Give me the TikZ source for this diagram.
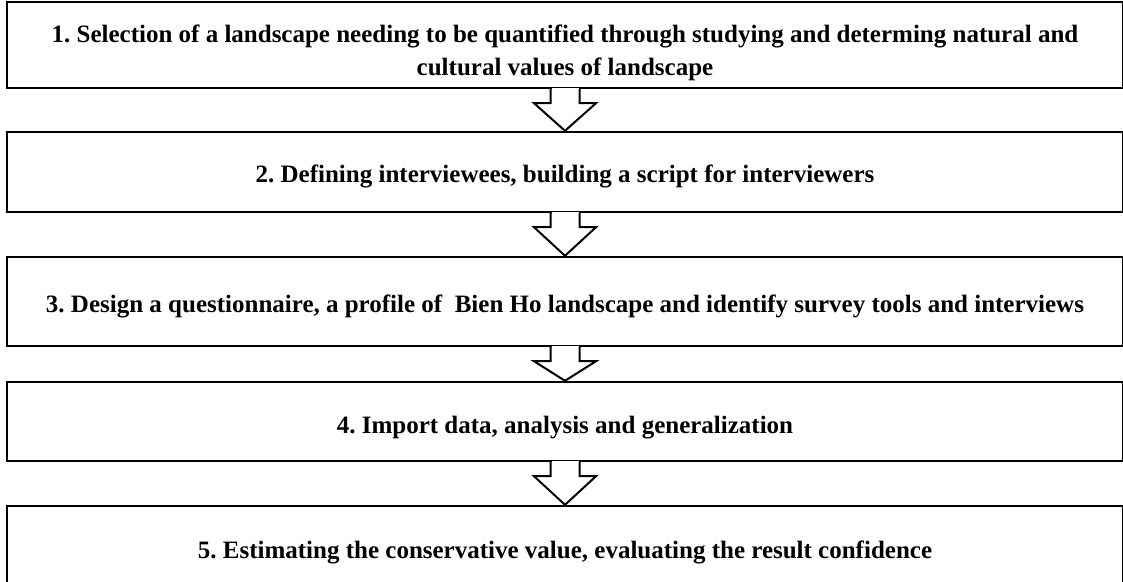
\documentclass[tikz,border=0pt]{standalone}
\usepackage{fontspec}
\setmainfont{Liberation Serif}
\usetikzlibrary{calc}
\frenchspacing

\tikzset{
  stagebox/.style={draw, line width=2.4pt, rectangle, minimum width=1116pt, inner sep=0pt},
  stagetext/.style={align=center, inner sep=0pt, font=\fontsize{25}{33}\selectfont\bfseries},
  arrowline/.style={draw, line width=2pt, line join=miter}
}

% hollow block arrow from the bottom of #1 down to the top of #2
\newcommand{\stagearrow}[2]{%
  \fill[white] ($(#1.south)+(-13.5,1.6)$) rectangle ($(#1.south)+(13.5,-1.6)$);
  \draw[arrowline] ($(#1.south)+(-14.5,0)$) -- ++(0,-14) -- ++(-16.5,0)
    -- (#2.north) -- ($(#1.south)+(31,-14)$) -- ++(-16.5,0) -- ++(0,14);
}

\begin{document}
\begin{tikzpicture}[x=1pt,y=1pt]
  \useasboundingbox (0,0) rectangle (1123,-581);
  \clip (0,0) rectangle (1123,-581);
  \fill[white] (0,0) rectangle (1123,-581);

  % the five stage frames
  \node[stagebox, minimum height=86pt] (s1) at (565,-45) {};
  \node[stagebox, minimum height=80pt] (s2) at (565,-172) {};
  \node[stagebox, minimum height=89pt] (s3) at (565,-301.5) {};
  \node[stagebox, minimum height=79pt] (s4) at (565,-421.5) {};
  \node[stagebox, minimum height=90pt] (s5) at (565,-551) {};

  % their texts
  \node[stagetext] (t1) at ($(s1.center)+(0,-7.5)$)
    {1. Selection of a landscape needing to be quantified through studying and determing natural and\\cultural values of landscape};
  \node[stagetext, anchor=base] (t2) at ($(s2.center)+(0,-10)$)
    {2. Defining interviewees, building a script for interviewers};
  \node[stagetext, anchor=base] (t3) at ($(s3.center)+(0,-10.5)$)
    {3. Design a questionnaire, a profile of \ Bien Ho landscape and identify survey tools and interviews};
  \node[stagetext, anchor=base] (t4) at ($(s4.center)+(0,-12)$)
    {4. Import data, analysis and generalization};
  \node[stagetext, anchor=base] (t5) at ($(s5.center)+(0,-7)$)
    {5. Estimating the conservative value, evaluating the result confidence};

  % arrows between stages
  \stagearrow{s1}{s2}
  \stagearrow{s2}{s3}
  \stagearrow{s3}{s4}
  \stagearrow{s4}{s5}
\end{tikzpicture}
\end{document}
